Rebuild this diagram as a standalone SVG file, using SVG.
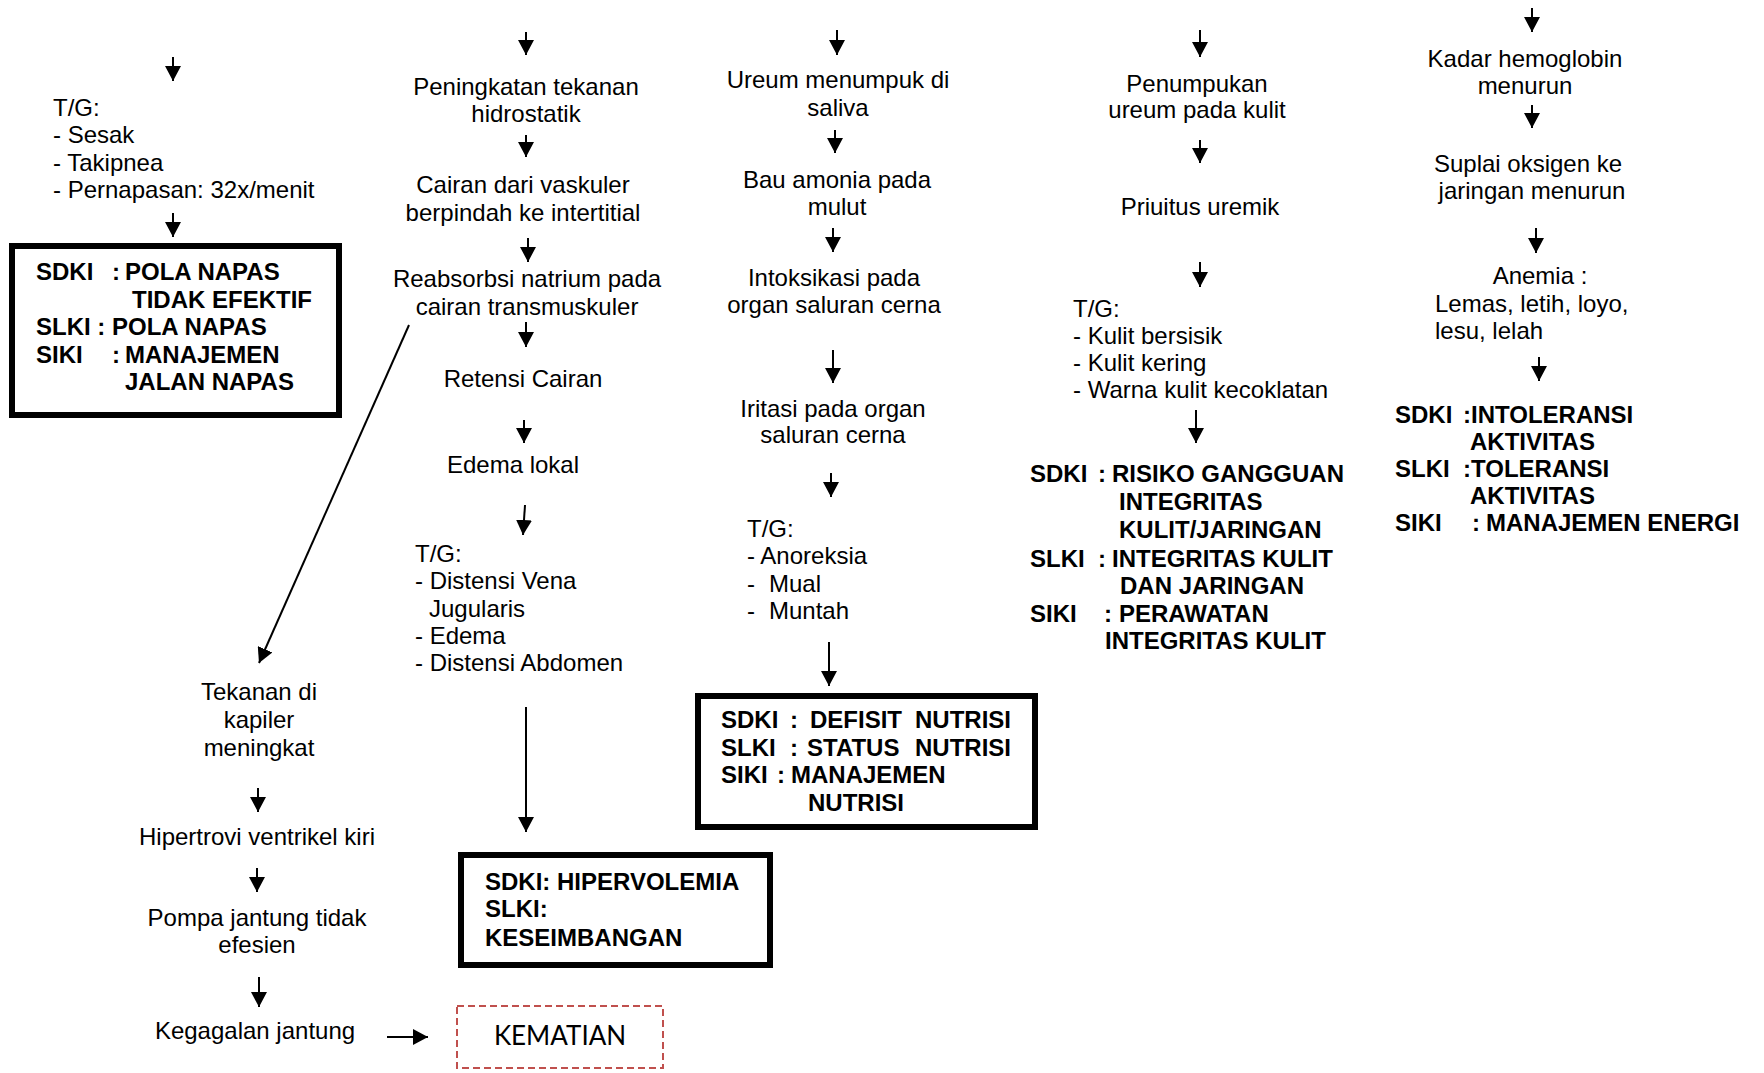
<svg xmlns="http://www.w3.org/2000/svg" width="1764" height="1073" viewBox="0 0 1764 1073">
<defs>
<marker id="ah" markerUnits="userSpaceOnUse" markerWidth="15" markerHeight="16" refX="15" refY="8" orient="auto">
<path d="M0,0 L15,8 L0,16 z" fill="#000"/>
</marker>
<style>
text{font-family:"Liberation Sans",Arial,sans-serif;font-size:24px;fill:#000}
.c{text-anchor:middle}
.b{font-weight:bold}
.box{fill:none;stroke:#000;stroke-width:6}
.cn line{stroke:#000;stroke-width:2;marker-end:url(#ah)}
.km{font-family:Lato,"Open Sans",sans-serif;font-size:26px}
</style>
</defs>
<rect width="1764" height="1073" fill="#fff"/>
<g class="cn" id="connectors">
<line x1="173" y1="57" x2="173" y2="81"/>
<line x1="173" y1="213" x2="173" y2="237"/>
<line x1="526" y1="32" x2="526" y2="55"/>
<line x1="526" y1="135" x2="526" y2="157"/>
<line x1="528" y1="238" x2="528" y2="262"/>
<line x1="526" y1="322" x2="526" y2="347"/>
<line x1="524" y1="420" x2="524" y2="443"/>
<line x1="525" y1="505" x2="523" y2="535"/>
<line x1="526" y1="707" x2="526" y2="832"/>
<line x1="409" y1="325" x2="259" y2="663"/>
<line x1="258" y1="788" x2="258" y2="812"/>
<line x1="257" y1="868" x2="257" y2="892"/>
<line x1="259" y1="977" x2="259" y2="1007"/>
<line x1="387" y1="1037" x2="428" y2="1037"/>
<line x1="837" y1="30" x2="837" y2="55"/>
<line x1="835" y1="130" x2="835" y2="153"/>
<line x1="833" y1="228" x2="833" y2="252"/>
<line x1="833" y1="350" x2="833" y2="383"/>
<line x1="831" y1="473" x2="831" y2="497"/>
<line x1="829" y1="642" x2="829" y2="686"/>
<line x1="1200" y1="30" x2="1200" y2="57"/>
<line x1="1200" y1="140" x2="1200" y2="163"/>
<line x1="1200" y1="262" x2="1200" y2="287"/>
<line x1="1196" y1="410" x2="1196" y2="443"/>
<line x1="1532" y1="8" x2="1532" y2="32"/>
<line x1="1532" y1="105" x2="1532" y2="128"/>
<line x1="1536" y1="228" x2="1536" y2="253"/>
<line x1="1539" y1="357" x2="1539" y2="381"/>
</g>
<g id="tg1">
<text x="53" y="116">T/G:</text>
<text x="53" y="143">- Sesak</text>
<text x="53" y="171">- Takipnea</text>
<text x="53" y="198">- Pernapasan: 32x/menit</text>
</g>
<g id="dx-napas">
<rect class="box" x="12" y="246" width="327" height="169"/>
<text class="b" x="36" y="280">SDKI</text><text class="b" x="112" y="280">:</text><text class="b" x="125" y="280">POLA NAPAS</text>
<text class="b" x="132" y="308">TIDAK EFEKTIF</text>
<text class="b" x="36" y="335">SLKI : POLA NAPAS</text>
<text class="b" x="36" y="363">SIKI</text><text class="b" x="112" y="363">:</text><text class="b" x="125" y="363">MANAJEMEN</text>
<text class="b" x="125" y="390">JALAN NAPAS</text>
</g>
<g id="n-hidro"><text class="c" x="526" y="95">Peningkatan tekanan</text><text class="c" x="526" y="122">hidrostatik</text></g>
<g id="n-cairan"><text class="c" x="523" y="193">Cairan dari vaskuler</text><text class="c" x="523" y="221">berpindah ke intertitial</text></g>
<g id="n-reabs"><text class="c" x="527" y="287">Reabsorbsi natrium pada</text><text class="c" x="527" y="315">cairan transmuskuler</text></g>
<g id="n-retensi"><text class="c" x="523" y="387">Retensi Cairan</text></g>
<g id="n-edema"><text class="c" x="513" y="473">Edema lokal</text></g>
<g id="tg2">
<text x="415" y="562">T/G:</text>
<text x="415" y="589">- Distensi Vena</text>
<text x="429" y="617">Jugularis</text>
<text x="415" y="644">- Edema</text>
<text x="415" y="671">- Distensi Abdomen</text>
</g>
<g id="dx-hiper">
<rect class="box" x="461" y="855" width="309" height="110"/>
<text class="b" x="485" y="890">SDKI: HIPERVOLEMIA</text>
<text class="b" x="485" y="917">SLKI:</text>
<text class="b" x="485" y="946">KESEIMBANGAN</text>
</g>
<g id="n-tekanan"><text class="c" x="259" y="700">Tekanan di</text><text class="c" x="259" y="728">kapiler</text><text class="c" x="259" y="756">meningkat</text></g>
<g id="n-hipertrovi"><text class="c" x="257" y="845">Hipertrovi ventrikel kiri</text></g>
<g id="n-pompa"><text class="c" x="257" y="926">Pompa jantung tidak</text><text class="c" x="257" y="953">efesien</text></g>
<g id="n-gagal"><text class="c" x="255" y="1039">Kegagalan jantung</text></g>
<g id="n-kematian">
<rect x="457" y="1006" width="206" height="62" fill="none" stroke="#c0504d" stroke-width="2" stroke-dasharray="7,4"/>
<text class="km c" x="560" y="1045">KEMATIAN</text>
</g>
<g id="n-ureum"><text class="c" x="838" y="88">Ureum menumpuk di</text><text class="c" x="838" y="116">saliva</text></g>
<g id="n-bau"><text class="c" x="837" y="188">Bau amonia pada</text><text class="c" x="837" y="215">mulut</text></g>
<g id="n-intoks"><text class="c" x="834" y="286">Intoksikasi pada</text><text class="c" x="834" y="313">organ saluran cerna</text></g>
<g id="n-iritasi"><text class="c" x="833" y="417">Iritasi pada organ</text><text class="c" x="833" y="443">saluran cerna</text></g>
<g id="tg3">
<text x="747" y="537">T/G:</text>
<text x="747" y="564">- Anoreksia</text>
<text x="747" y="592">-</text><text x="769" y="592">Mual</text>
<text x="747" y="619">-</text><text x="769" y="619">Muntah</text>
</g>
<g id="dx-nutrisi">
<rect class="box" x="698" y="696" width="337" height="131"/>
<text class="b" x="721" y="728">SDKI</text><text class="b" x="790" y="728">:</text><text class="b" x="810" y="728">DEFISIT</text><text class="b" x="915" y="728">NUTRISI</text>
<text class="b" x="721" y="756">SLKI</text><text class="b" x="790" y="756">:</text><text class="b" x="807" y="756">STATUS</text><text class="b" x="915" y="756">NUTRISI</text>
<text class="b" x="721" y="783">SIKI</text><text class="b" x="777" y="783">:</text><text class="b" x="791" y="783">MANAJEMEN</text>
<text class="b" x="808" y="811">NUTRISI</text>
</g>
<g id="n-penumpukan"><text class="c" x="1197" y="92">Penumpukan</text><text class="c" x="1197" y="118">ureum pada kulit</text></g>
<g id="n-priuitus"><text class="c" x="1200" y="215">Priuitus uremik</text></g>
<g id="tg4">
<text x="1073" y="317">T/G:</text>
<text x="1073" y="344">- Kulit bersisik</text>
<text x="1073" y="371">- Kulit kering</text>
<text x="1073" y="398">- Warna kulit kecoklatan</text>
</g>
<g id="dx-kulit">
<text class="b" x="1030" y="482">SDKI</text><text class="b" x="1098" y="482">:</text><text class="b" x="1112" y="482">RISIKO GANGGUAN</text>
<text class="b" x="1119" y="510">INTEGRITAS</text>
<text class="b" x="1119" y="538">KULIT/JARINGAN</text>
<text class="b" x="1030" y="567">SLKI</text><text class="b" x="1098" y="567">:</text><text class="b" x="1112" y="567">INTEGRITAS KULIT</text>
<text class="b" x="1120" y="594">DAN JARINGAN</text>
<text class="b" x="1030" y="622">SIKI</text><text class="b" x="1104" y="622">:</text><text class="b" x="1119" y="622">PERAWATAN</text>
<text class="b" x="1105" y="649">INTEGRITAS KULIT</text>
</g>
<g id="n-hb"><text class="c" x="1525" y="67">Kadar hemoglobin</text><text class="c" x="1525" y="94">menurun</text></g>
<g id="n-suplai"><text class="c" x="1528" y="172">Suplai oksigen ke</text><text class="c" x="1532" y="199">jaringan menurun</text></g>
<g id="n-anemia"><text class="c" x="1540" y="284">Anemia :</text><text x="1435" y="312">Lemas, letih, loyo,</text><text x="1435" y="339">lesu, lelah</text></g>
<g id="dx-aktivitas">
<text class="b" x="1395" y="423">SDKI</text><text class="b" x="1463" y="423">:INTOLERANSI</text>
<text class="b" x="1470" y="450">AKTIVITAS</text>
<text class="b" x="1395" y="477">SLKI</text><text class="b" x="1463" y="477">:TOLERANSI</text>
<text class="b" x="1470" y="504">AKTIVITAS</text>
<text class="b" x="1395" y="531">SIKI</text><text class="b" x="1472" y="531">:</text><text class="b" x="1486" y="531">MANAJEMEN ENERGI</text>
</g>
</svg>
